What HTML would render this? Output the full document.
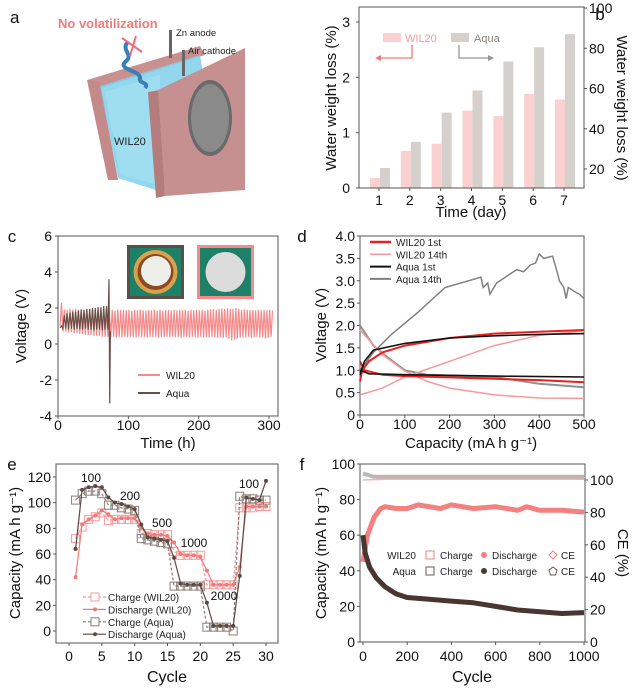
<!DOCTYPE html>
<html><head><meta charset="utf-8">
<style>
html,body{margin:0;padding:0;background:#fff;}
svg{display:block;font-family:"Liberation Sans",Arial,sans-serif;}
</style></head>
<body>
<svg id="fig" width="632" height="689" viewBox="0 0 632 689" xmlns="http://www.w3.org/2000/svg">
<!-- Panel a illustration -->
<g>
  <text x="10" y="23" font-size="17" fill="#111">a</text>
  <polygon points="87,80 200,46 205,55 100,88" fill="#c99090"/>
  <polygon points="87,80 100,82 118,180 108,180" fill="#c48a8a"/>
  <polygon points="100,86 200,55 205,85 162,95 162,192 118,178" fill="#7fd0ea" opacity="0.85"/>
  <polygon points="105,92 160,75 160,185 120,175" fill="#a8e2f4" opacity="0.6"/>
  <polygon points="148,92 160,90 165,196 156,198" fill="#b57c7c"/>
  <polygon points="158,90 245,48 245,190 165,196" fill="#c79090"/>
  <ellipse cx="210" cy="118" rx="22" ry="38" fill="#6a6a6a"/>
  <ellipse cx="210" cy="118" rx="19" ry="34" fill="#8a8a8a"/>
  <rect x="169" y="30" width="3" height="28" fill="#666"/>
  <rect x="182" y="50" width="3" height="26" fill="#666"/>
  <path d="M128,42 C120,50 135,55 125,62 C118,70 140,70 140,78 C138,84 150,82 145,88" stroke="#3a7fb5" stroke-width="4" fill="none"/>
  <line x1="122" y1="38" x2="142" y2="52" stroke="#f06a7a" stroke-width="2"/>
  <line x1="136" y1="36" x2="130" y2="56" stroke="#f06a7a" stroke-width="2"/>
  <text x="58" y="28" font-size="13" font-weight="bold" fill="#f27c7c">No volatilization</text>
  <text x="176" y="36" font-size="9.5" fill="#222">Zn anode</text>
  <text x="188" y="54" font-size="9.5" fill="#222">Air cathode</text>
  <text x="114" y="145" font-size="11" fill="#222">WIL20</text>
</g>
<g id="charts"></g>
</svg>
<script>
// ---------- DATA ----------
// Panel b
const bDays = [1,2,3,4,5,6,7];
const bWil = [0.18,0.67,0.8,1.4,1.3,1.7,1.6];
const bAqua = [20.5,33.5,48,59,73.5,80.5,87];
const bLeftTicks = [0,1,2,3];
const bRightTicks = [20,40,60,80,100];
// Panel c
const cXTicks = [0,100,200,300];
const cYTicks = [-4,-2,0,2,4,6];
const cPeriod = 4;
const cWilStart = 72;
const cWilHi = [1.9,1.9,1.85,1.9,1.88,1.9,1.87,1.9,1.85,1.9,1.88,1.9,1.87,1.86,1.9,1.88,1.9,1.86,1.9,1.85,1.88,1.9,1.87,1.9,1.86,1.9,1.88,1.9,1.86,1.9,1.88,1.9,1.87,1.9,1.86,1.9,1.92,1.95,1.9,1.95,1.97,1.95,1.98,1.95,1.97,2.0,1.96,1.9,1.92,1.9,1.88,1.9,1.87,1.9,1.88,1.9,1.87,1.9,1.86];
const cWilLo = [0.4,0.38,0.4,0.35,0.4,0.38,0.4,0.36,0.4,0.38,0.35,0.4,0.38,0.4,0.36,0.4,0.38,0.4,0.35,0.4,0.38,0.4,0.36,0.4,0.38,0.4,0.35,0.4,0.38,0.36,0.4,0.38,0.35,0.4,0.38,0.4,0.36,0.4,0.38,0.35,0.38,0.33,0.36,0.3,0.2,0.25,0.3,0.35,0.38,0.36,0.4,0.35,0.38,0.4,0.36,0.38,0.3,0.35,0.4];
const cWilEarlyHi = [2.3,1.9,1.9,1.95,1.9,1.95,1.9,1.95,1.9,1.95,1.9,1.95,1.9,1.95,1.9,1.9,1.92];
const cWilEarlyLo = [1.0,0.7,0.7,0.65,0.65,0.6,0.6,0.55,0.55,0.5,0.5,0.5,0.45,0.45,0.45,0.4,0.4];
const cAquaHi = [1.0,1.6,1.7,1.75,1.8,1.8,1.85,1.9,1.9,1.95,1.95,2.0,2.0,2.05,2.05,2.1,2.1];
const cAquaLo = [0.9,0.85,0.85,0.8,0.85,0.8,0.85,0.8,0.8,0.85,0.8,0.8,0.75,0.8,0.8,0.75,0.8];
const cSpike = [[71,0.8],[72.5,3.6],[73.5,-3.3],[74.5,0.7]];
// Panel d
const dXTicks = [0,100,200,300,400,500];
const dYTicks = [0,0.5,1.0,1.5,2.0,2.5,3.0,3.5,4.0];
const dWil1C = [[0,0.75],[5,1.0],[20,1.2],[50,1.4],[100,1.55],[200,1.72],[300,1.82],[400,1.86],[500,1.9]];
const dWil1D = [[0,1.2],[10,1.0],[50,0.9],[100,0.87],[200,0.84],[300,0.81],[400,0.78],[500,0.73]];
const dWil14C = [[0,0.45],[50,0.6],[100,0.85],[200,1.2],[300,1.55],[400,1.78],[500,1.88]];
const dWil14D = [[0,1.9],[50,1.35],[100,0.98],[150,0.75],[200,0.6],[300,0.45],[400,0.38],[500,0.37]];
const dAq1C = [[0,0.9],[10,1.2],[30,1.45],[100,1.6],[200,1.72],[300,1.77],[400,1.8],[500,1.82]];
const dAq1D = [[0,1.0],[20,0.92],[100,0.9],[300,0.87],[500,0.85]];
const dAq14C = [[0,1.0],[30,1.4],[70,1.8],[130,2.3],[190,2.85],[270,3.08],[275,2.85],[285,2.95],[290,2.7],[305,2.95],[320,3.05],[335,3.15],[350,3.25],[365,3.2],[380,3.35],[392,3.4],[400,3.6],[410,3.5],[430,3.55],[440,3.2],[445,3.0],[455,2.85],[460,2.6],[465,2.85],[480,2.75],[490,2.7],[500,2.6]];
const dAq14D = [[0,2.0],[30,1.55],[60,1.3],[100,1.0],[150,0.9],[300,0.85],[400,0.7],[500,0.62]];
// Panel e
const eCycles = [1,2,3,4,5,6,7,8,9,10,11,12,13,14,15,16,17,18,19,20,21,22,23,24,25,26,27,28,29,30];
const eWilC = [72,81,87,89,92,86,87,87,87,87,76,76,75,75,75,62,59,59,59,59,36,36,36,36,36,96,96,96,97,97];
const eWilD = [42,83,87,90,94,91,87,88,88,88,80,76,75,75,74,69,60,59,59,58,47,36,36,36,36,50,97,97,97,97];
const eAqC = [102,107,109,109,107,98,98,96,95,94,72,71,70,69,68,35,35,35,35,35,3,3,3,3,0,105,103,103,102,102];
const eAqD = [64,110,112,113,112,104,100,99,97,95,83,73,72,71,70,57,37,36,36,36,22,4,4,4,4,43,104,103,102,117];
const eXTicks = [0,5,10,15,20,25,30];
const eYTicks = [0,20,40,60,80,100,120];
// Panel f
const fXTicks = [0,200,400,600,800,1000];
const fYTicks = [0,20,40,60,80,100];
const fCETicks = [0,20,40,60,80,100];
const fWil = [[0,45],[20,60],[50,70],[80,75],[100,76],[150,75],[200,75],[250,77],[300,76],[350,75],[400,77],[450,76],[500,75],[600,76],[700,74],[740,76],[800,74],[900,74],[1000,73]];
const fAq = [[0,60],[10,50],[30,42],[60,36],[100,31],[150,27],[200,25],[300,24],[400,23],[500,22],[600,20],[700,18],[800,17],[900,16],[1000,16.5]];
const fWilCE = [[0,100],[100,100.5],[500,100.5],[1000,100.5]];
const fAqCE = [[0,104],[50,102],[100,102],[300,102],[600,102],[1000,102]];

// ---------- HELPERS ----------
const NS = 'http://www.w3.org/2000/svg';
const root = document.getElementById('charts');
function mk(tag, attrs, parent){
  const e = document.createElementNS(NS, tag);
  for (const k in attrs) e.setAttribute(k, attrs[k]);
  (parent||root).appendChild(e);
  return e;
}
function txt(x,y,s,size,anchor,fill,rot,parent){
  const t = mk('text',{x:x,y:y,'font-size':size,'text-anchor':anchor||'middle',fill:fill||'#111'},parent);
  if (rot) t.setAttribute('transform','rotate('+rot+' '+x+' '+y+')');
  t.textContent = s;
  return t;
}
function lin(x0,x1,p0,p1){ return v => p0 + (v-x0)/(x1-x0)*(p1-p0); }
function frame(l,t,r,b,parent){
  mk('rect',{x:l,y:t,width:r-l,height:b-t,fill:'none',stroke:'#555','stroke-width':1},parent);
}
function pathOf(pts,sx,sy){ return pts.map((p,i)=>(i?'L':'M')+sx(p[0]).toFixed(1)+','+sy(p[1]).toFixed(1)).join(''); }

// ---------- PANEL B ----------
(function(){
  const g = mk('g',{});
  
  
  const L=359,R=584,T=7,B=188;
  const sx = lin(1,7,379,564);
  const syL = lin(0,3,188,22);
  const syR = lin(20,100,169,8);
  bDays.forEach((d,i)=>{
    const r1 = mk('rect',{x:sx(d)-9,y:syL(bWil[i]),width:10,height:B-syL(bWil[i]),fill:'#fbd0d0'},g);
    
    
    const r2 = mk('rect',{x:sx(d)+1,y:syR(bAqua[i]),width:10,height:B-syR(bAqua[i]),fill:'#d6d0cc'},g);
    
    
    txt(sx(d),205,String(d),14,'middle','#111',0,g);
    mk('line',{x1:sx(d),y1:B,x2:sx(d),y2:B+3,stroke:'#555'},g);
  });
  frame(L,T,R,B,g);
  bLeftTicks.forEach(v=>{ txt(L-9,syL(v)+5,String(v),14,'end','#111',0,g); mk('line',{x1:L-3,y1:syL(v),x2:L,y2:syL(v),stroke:'#555'},g); });
  bRightTicks.forEach(v=>{ txt(R+5,syR(v)+5,String(v),14,'start','#111',0,g); mk('line',{x1:R,y1:syR(v),x2:R+3,y2:syR(v),stroke:'#555'},g); });
  txt(471,217,'Time (day)',15,'middle','#111',0,g);
  txt(336,98,'Water weight loss (%)',15,'middle','#111',-90,g);
  txt(617,108,'Water weight loss (%)',15,'middle','#111',90,g);
  txt(600,20,'b',17,'middle','#111',0,g);
  mk('rect',{x:383,y:33,width:18,height:9,fill:'#fbd0d0'},g);
  txt(405,42,'WIL20',11,'start','#f59a9a',0,g);
  mk('rect',{x:451,y:33,width:18,height:9,fill:'#d6d0cc'},g);
  txt(474,42,'Aqua',11,'start','#8a8480',0,g);
  mk('path',{d:'M412,45 L412,58 L378,58',stroke:'#f07a7a',fill:'none','stroke-width':1.3},g);
  mk('path',{d:'M375,58 L381,55 L381,61 Z',fill:'#f07a7a'},g);
  mk('path',{d:'M459,45 L459,58 L490,58',stroke:'#9a9490',fill:'none','stroke-width':1.3},g);
  mk('path',{d:'M494,58 L488,55 L488,61 Z',fill:'#9a9490'},g);
})();

// ---------- PANEL C ----------
(function(){
  const g = mk('g',{});
  
  
  const L=58,R=278,T=236,B=416;
  const sx = lin(0,300,58,269), sy = lin(-4,6,416,236);
  frame(L,T,R,B,g);
  cYTicks.forEach(v=>{ txt(L-6,sy(v)+5,String(v),14,'end','#111',0,g); mk('line',{x1:L-3,y1:sy(v),x2:L,y2:sy(v),stroke:'#555'},g); });
  cXTicks.forEach(v=>{ txt(sx(v),430,String(v),14,'middle','#111',0,g); mk('line',{x1:sx(v),y1:B,x2:sx(v),y2:B+3,stroke:'#555'},g); });
  txt(168,448,'Time (h)',15,'middle','#111',0,g);
  txt(26,326,'Voltage (V)',15,'middle','#111',-90,g);
  txt(12,242,'c',17,'middle','#111',0,g);
  // WIL20
  let d='';
  const wilHi = cWilEarlyHi.concat(cWilHi), wilLo = cWilEarlyLo.concat(cWilLo);
  wilHi.forEach((h,i)=>{
    const t0 = 3 + i*cPeriod;
    d += (i?'L':'M')+sx(t0).toFixed(1)+','+sy(wilLo[i]).toFixed(1)+'L'+sx(t0+cPeriod/2).toFixed(1)+','+sy(h).toFixed(1);
  });
  const p1 = mk('path',{d:d,stroke:'#f58a8a','stroke-width':1.2,fill:'none'},g);
  
  
  // Aqua
  d='';
  cAquaHi.forEach((h,i)=>{
    const t0 = 3 + i*cPeriod;
    d += (i?'L':'M')+sx(t0).toFixed(1)+','+sy(cAquaLo[i]).toFixed(1)+'L'+sx(t0+cPeriod/2).toFixed(1)+','+sy(h).toFixed(1);
  });
  cSpike.forEach(p=>{ d += 'L'+sx(p[0]).toFixed(1)+','+sy(p[1]).toFixed(1); });
  const p2 = mk('path',{d:d,stroke:'#6a5048','stroke-width':1.2,fill:'none'},g);
  
  
  // insets
  mk('rect',{x:127,y:245,width:57,height:54,fill:'#5e4e46'},g);
  mk('rect',{x:130,y:248,width:51,height:48,fill:'#1f8068'},g);
  mk('circle',{cx:155.5,cy:272,r:22,fill:'#d9a24a'},g);
  mk('circle',{cx:155.5,cy:272,r:18,fill:'#8a4a22'},g);
  mk('circle',{cx:156,cy:271,r:15,fill:'#eeeeea'},g);
  mk('rect',{x:197,y:245,width:57,height:54,fill:'#f48a8a'},g);
  mk('rect',{x:200,y:248,width:51,height:48,fill:'#1f8068'},g);
  mk('circle',{cx:225.5,cy:272,r:20,fill:'#dcdcdc'},g);
  // legend
  mk('line',{x1:138,y1:375,x2:160,y2:375,stroke:'#f58a8a','stroke-width':2},g);
  txt(166,379,'WIL20',10,'start','#222',0,g);
  mk('line',{x1:138,y1:393,x2:160,y2:393,stroke:'#6a5048','stroke-width':2},g);
  txt(166,397,'Aqua',10,'start','#222',0,g);
})();

// ---------- PANEL D ----------
(function(){
  const g = mk('g',{});
  
  
  const L=360,R=584,T=236,B=415;
  const sx = lin(0,500,360,584), sy = lin(0,4,415,236);
  frame(L,T,R,B,g);
  dYTicks.forEach(v=>{ txt(L-5,sy(v)+5,v===0?'0':v.toFixed(1),14,'end','#111',0,g); mk('line',{x1:L-3,y1:sy(v),x2:L,y2:sy(v),stroke:'#555'},g); });
  dXTicks.forEach(v=>{ txt(sx(v),429,String(v),14,'middle','#111',0,g); mk('line',{x1:sx(v),y1:B,x2:sx(v),y2:B+3,stroke:'#555'},g); });
  txt(471,448,'Capacity (mA h g⁻¹)',15,'middle','#111',0,g);
  txt(326,325,'Voltage (V)',15,'middle','#111',-90,g);
  txt(302,242,'d',17,'middle','#111',0,g);
  const series = [
    [dAq14C,'#808080',1.5,'aqua-14th-charge'],[dAq14D,'#909090',2,'aqua-14th-discharge'],
    [dWil14C,'#f59a9a',1.5,'wil20-14th-charge'],[dWil14D,'#f59a9a',1.5,'wil20-14th-discharge'],
    [dWil1C,'#e82020',2,'wil20-1st-charge'],[dWil1D,'#e82020',2,'wil20-1st-discharge'],
    [dAq1C,'#111',1.6,'aqua-1st-charge'],[dAq1D,'#111',1.6,'aqua-1st-discharge']];
  series.forEach(s=>{
    const p = mk('path',{d:pathOf(s[0],sx,sy),stroke:s[1],'stroke-width':s[2],fill:'none'},g);
    
    
  });
  const leg = [['WIL20  1st','#e82020',2.5],['WIL20  14th','#f59a9a',1.5],['Aqua 1st','#111',2],['Aqua 14th','#808080',2]];
  leg.forEach((l,i)=>{
    const y = 242 + i*12.3;
    mk('line',{x1:370,y1:y,x2:391,y2:y,stroke:l[1],'stroke-width':l[2]},g);
    txt(396,y+4,l[0],10,'start','#222',0,g);
  });
})();

// ---------- PANEL E ----------
(function(){
  const g = mk('g',{});
  
  
  const L=56,R=278,T=464,B=643;
  const sx = lin(0,30,69,266), sy = lin(0,120,631,477);
  frame(L,T,R,B,g);
  eYTicks.forEach(v=>{ txt(L-5,sy(v)+5,String(v),14,'end','#111',0,g); mk('line',{x1:L-3,y1:sy(v),x2:L,y2:sy(v),stroke:'#555'},g); });
  eXTicks.forEach(v=>{ txt(sx(v),661,String(v),14,'middle','#111',0,g); mk('line',{x1:sx(v),y1:B,x2:sx(v),y2:B+3,stroke:'#555'},g); });
  txt(167,682,'Cycle',16,'middle','#111',0,g);
  txt(20,553,'Capacity (mA h g⁻¹)',15,'middle','#111',-90,g);
  txt(12,470,'e',17,'middle','#111',0,g);
  const S = [[eWilC,'#f59a9a','sq','wil20-charge'],[eWilD,'#f07a7a','dot','wil20-discharge'],[eAqC,'#8a7e78','sq','aqua-charge'],[eAqD,'#5e4840','dot','aqua-discharge']];
  S.forEach(s=>{
    const pts = eCycles.map((c,i)=>[c,s[0][i]]);
    const p = mk('path',{d:pathOf(pts,sx,sy),stroke:s[1],'stroke-width':1.2,fill:'none','stroke-dasharray':s[2]==='sq'?'3,2':'none'},g);
    
    
    pts.forEach(pt=>{
      let m;
      if (s[2]==='sq') m = mk('rect',{x:sx(pt[0])-4,y:sy(pt[1])-4,width:8,height:8,fill:'none',stroke:s[1],'stroke-width':1},g);
      else m = mk('circle',{cx:sx(pt[0]),cy:sy(pt[1]),r:2,fill:s[1]},g);
      
      
    });
  });
  [['100',91,482],['200',130,500],['500',162,527],['1000',194,547],['2000',224,600],['100',249,488]].forEach(a=>txt(a[1],a[2],a[0],12,'middle','#111',0,g));
  const leg = [['Charge (WIL20)','#f59a9a','sq'],['Discharge (WIL20)','#f07a7a','dot'],['Charge (Aqua)','#8a7e78','sq'],['Discharge (Aqua)','#5e4840','dot']];
  leg.forEach((l,i)=>{
    const y = 597 + i*12.4;
    mk('line',{x1:83,y1:y,x2:106,y2:y,stroke:l[1],'stroke-width':1.2,'stroke-dasharray':l[2]==='sq'?'3,2':'none'},g);
    if (l[2]==='sq') mk('rect',{x:91,y:y-4,width:8,height:8,fill:'#fff',stroke:l[1]},g);
    else mk('circle',{cx:95,cy:y,r:2,fill:l[1]},g);
    txt(108,y+4,l[0],10,'start','#222',0,g);
  });
})();

// ---------- PANEL F ----------
(function(){
  const g = mk('g',{});
  
  
  const L=360,R=585,T=464,B=642;
  const sx = lin(0,1000,363,584), sy = lin(0,100,642,464), syR = lin(0,100,642,480);
  frame(L,T,R,B,g);
  fYTicks.forEach(v=>{ txt(L-5,sy(v)+5,String(v),14,'end','#111',0,g); mk('line',{x1:L-3,y1:sy(v),x2:L,y2:sy(v),stroke:'#555'},g); });
  fCETicks.forEach(v=>{ txt(R+5,syR(v)+5,String(v),14,'start','#111',0,g); mk('line',{x1:R,y1:syR(v),x2:R+3,y2:syR(v),stroke:'#555'},g); });
  fXTicks.forEach(v=>{ txt(sx(v),661,String(v),14,'middle','#111',0,g); mk('line',{x1:sx(v),y1:B,x2:sx(v),y2:B+3,stroke:'#555'},g); });
  txt(472,682,'Cycle',16,'middle','#111',0,g);
  txt(326,553,'Capacity (mA h g⁻¹)',15,'middle','#111',-90,g);
  txt(618,553,'CE (%)',15,'middle','#111',90,g);
  txt(302,470,'f',17,'middle','#111',0,g);
  const a = mk('path',{d:pathOf(fAqCE,sx,syR),stroke:'#bdb6b2','stroke-width':4,fill:'none'},g);
   
  const w = mk('path',{d:pathOf(fWilCE,sx,syR),stroke:'#f5b0b0','stroke-width':1.5,fill:'none'},g);
   
  const p1 = mk('path',{d:pathOf(fWil,sx,sy),stroke:'#f58080','stroke-width':5,fill:'none','stroke-linejoin':'round'},g);
   
  const p2 = mk('path',{d:pathOf(fAq,sx,sy),stroke:'#4a3630','stroke-width':5,fill:'none','stroke-linejoin':'round'},g);
   
  // legend
  txt(416,559,'WIL20',10,'end','#222',0,g);
  txt(416,575,'Aqua',10,'end','#222',0,g);
  mk('rect',{x:426,y:551,width:8,height:8,fill:'none',stroke:'#f58080'},g);
  mk('rect',{x:426,y:567,width:8,height:8,fill:'none',stroke:'#6a5a52'},g);
  txt(440,559,'Charge',10,'start','#222',0,g);
  txt(440,575,'Charge',10,'start','#222',0,g);
  mk('circle',{cx:484,cy:555,r:3,fill:'#f58080'},g);
  mk('circle',{cx:484,cy:571,r:3,fill:'#4a3630'},g);
  txt(492,559,'Discharge',10,'start','#222',0,g);
  txt(492,575,'Discharge',10,'start','#222',0,g);
  mk('path',{d:'M553,551 L557,555 L553,559 L549,555 Z',fill:'none',stroke:'#f58080'},g);
  mk('path',{d:'M553,567 L557,570 L555.5,575 L550.5,575 L549,570 Z',fill:'none',stroke:'#6a5a52'},g);
  txt(561,559,'CE',10,'start','#222',0,g);
  txt(561,575,'CE',10,'start','#222',0,g);
})();
</script>
</body></html>
